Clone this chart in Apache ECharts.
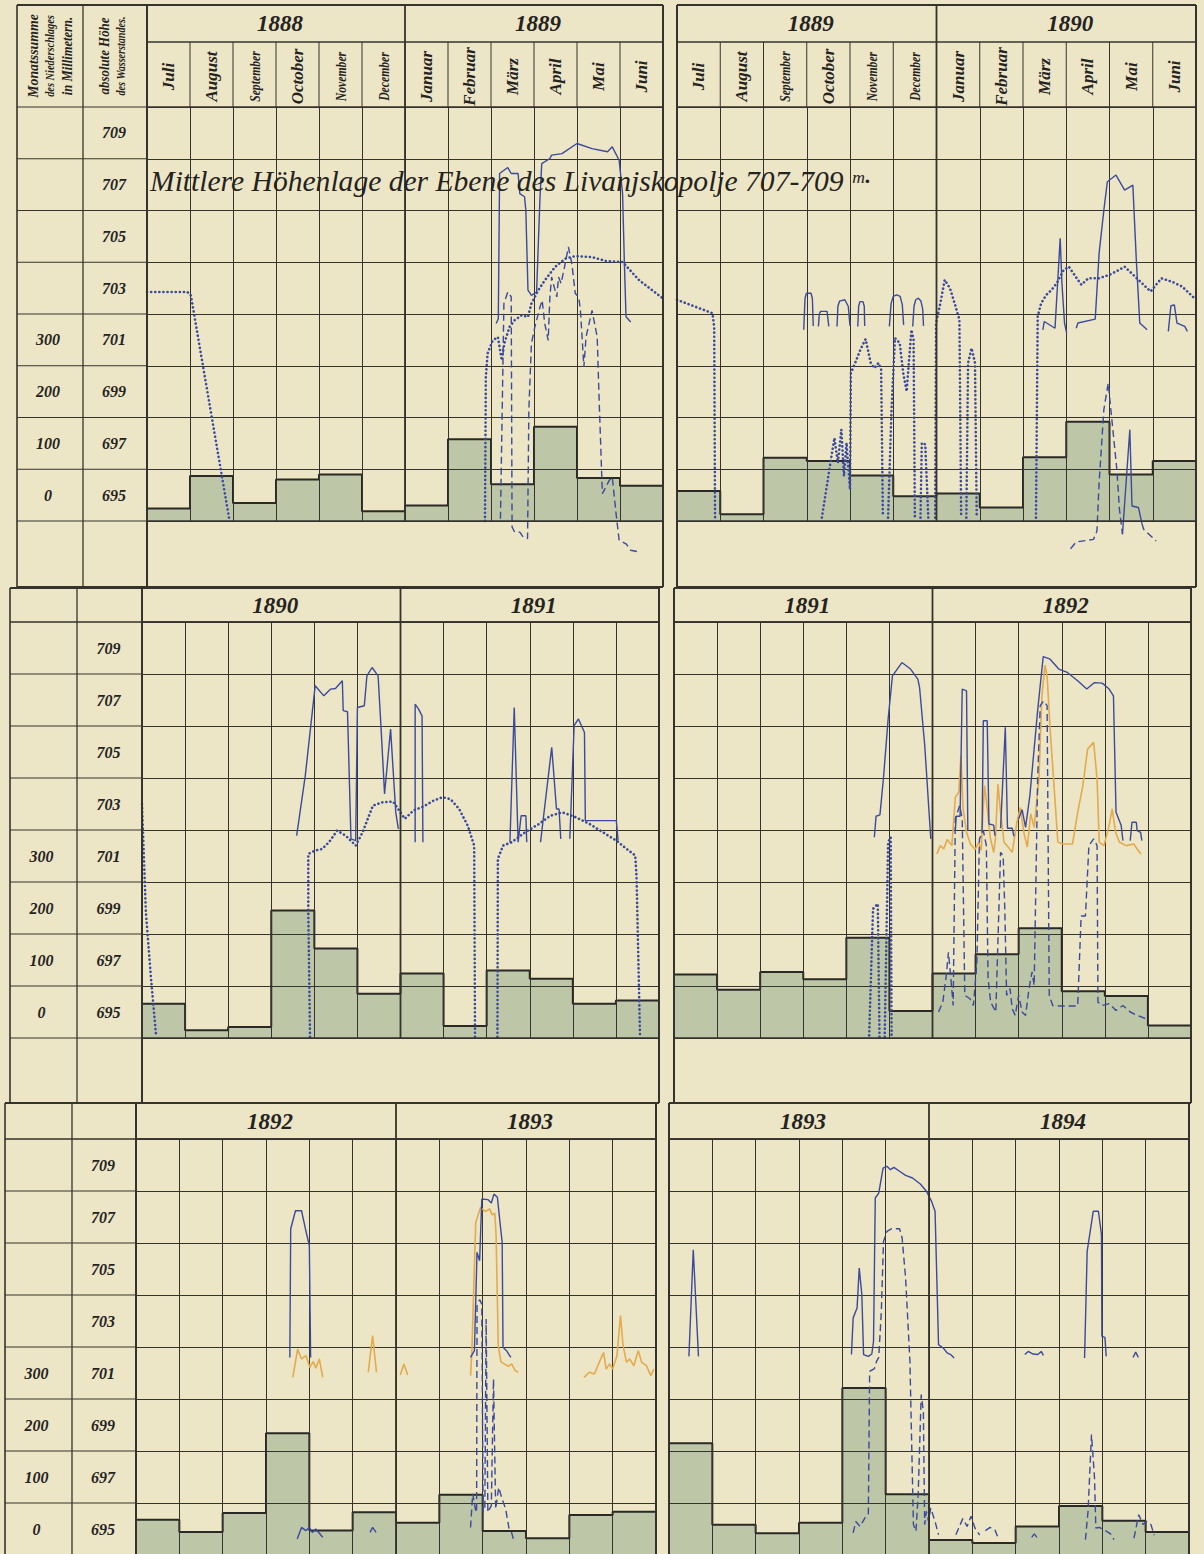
<!DOCTYPE html>
<html>
<head>
<meta charset="utf-8">
<script src="https://cdn.jsdelivr.net/npm/echarts@6/dist/echarts.min.js"></script>
<style>
  html, body { margin: 0; padding: 0; background: #ece6c6; }
  #chart { width: 1204px; height: 1554px; }
</style>
</head>
<body>
<div id="chart"></div>
<script>
// ---- labels ----
const months = ['Juli', 'August', 'September', 'October', 'November', 'December',
  'Januar', 'Februar', 'März', 'April', 'Mai', 'Juni']
const heightTicks = [709, 707, 705, 703, 701, 699, 697, 695]
const rainTicks = [300, 200, 100, 0]

// ---- Monatssumme des Niederschlages (mm), Juli .. Juni ----
const rain1888 = [24, 87, 35, 80, 90, 19, 30, 158, 71, 182, 83, 68]
const rain1889 = [58, 13, 122, 116, 88, 48, 53, 26, 123, 192, 90, 116]
const rain1890 = [66, 15, 21, 245, 172, 85, 124, 23, 130, 114, 66, 72]
const rain1891 = [122, 93, 127, 113, 193, 52, 124, 161, 211, 90, 81, 24]
const rain1892 = [68, 44, 81, 234, 47, 82, 62, 116, 46, 32, 77, 83]
const rain1893 = [215, 58, 42, 62, 321, 117, 29, 23, 55, 94, 66, 44]

// ---- Wasserstand (m), points are [month since 1 Juli, Höhe] ----
const solid1888 = [
  [[8.12, 702.63], [8.17, 702.82], [8.20, 708.43], [8.39, 708.66], [8.47, 708.43], [8.63, 708.43], [8.67, 707.65], [8.78, 707.53], [8.81, 707.01], [8.86, 703.92], [8.94, 703.72], [9.06, 703.85], [9.14, 707.53], [9.18, 708.81], [9.37, 709.01], [9.41, 709.14], [9.65, 709.2], [10.0, 709.59], [10.35, 709.39], [10.71, 709.27], [10.82, 709.46], [10.98, 708.94], [11.06, 707.65], [11.10, 705.08], [11.14, 702.89], [11.25, 702.69]]
]
const dotted1888 = [
  [[0, 703.85], [0.94, 703.85], [1.02, 703.72], [1.92, 695.0]],
  [[7.86, 695.0], [7.88, 700.57], [7.92, 701.47], [8.04, 701.98], [8.16, 702.11], [8.25, 701.21], [8.31, 701.86], [8.43, 702.5], [8.55, 702.76], [8.71, 702.95], [8.86, 702.89], [8.94, 703.4], [9.10, 703.92], [9.25, 704.3], [9.49, 704.82], [9.73, 705.14], [9.96, 705.24], [10.35, 705.2], [10.67, 705.05], [11.06, 705.01], [11.45, 704.3], [12, 703.6]]
]
const dashed1888 = [
  [[8.22, 695.09], [8.30, 703.4], [8.39, 703.85], [8.47, 703.66], [8.49, 694.77], [8.55, 694.57], [8.67, 694.57], [8.75, 694.38], [8.85, 694.32], [8.88, 699.28], [8.94, 701.86], [9.02, 702.5], [9.14, 703.27], [9.19, 703.53], [9.25, 702.63], [9.33, 701.98], [9.37, 703.66], [9.41, 704.43], [9.53, 703.66], [9.57, 704.43], [9.63, 704.18], [9.71, 704.82], [9.80, 705.59], [9.88, 704.95], [9.96, 703.79], [10.04, 703.66], [10.08, 703.14], [10.16, 700.95], [10.21, 702.11], [10.35, 703.14], [10.47, 702.11], [10.51, 699.92], [10.59, 696.06], [10.67, 696.31], [10.75, 696.57], [10.82, 696.7], [10.90, 695.41], [10.98, 694.25], [11.14, 694.12], [11.25, 693.87], [11.45, 693.8]]
]

const solid1889 = [
  [[2.93, 702.39], [2.96, 703.6], [2.99, 703.8], [3.10, 703.8], [3.13, 703.6], [3.15, 702.54]],
  [[3.27, 702.52], [3.29, 703.0], [3.32, 703.1], [3.47, 703.1], [3.51, 702.52]],
  [[3.70, 702.52], [3.72, 703.3], [3.76, 703.5], [3.88, 703.55], [3.96, 703.3], [4.0, 702.54]],
  [[4.18, 702.52], [4.20, 703.3], [4.23, 703.48], [4.30, 703.48], [4.33, 703.3], [4.34, 702.54]],
  [[4.91, 702.52], [4.95, 703.4], [5.0, 703.68], [5.08, 703.74], [5.16, 703.68], [5.21, 703.35], [5.24, 702.58]],
  [[5.45, 702.52], [5.48, 703.3], [5.52, 703.55], [5.58, 703.61], [5.64, 703.5], [5.68, 703.2], [5.70, 702.54]],
  [[8.46, 702.39], [8.49, 702.71], [8.74, 702.45], [8.80, 704.19], [8.86, 705.93], [8.90, 704.19], [8.96, 702.65], [9.01, 702.26]],
  [[9.23, 702.45], [9.27, 702.65], [9.67, 702.8], [9.76, 705.35], [9.87, 707.02], [9.95, 708.11], [10.15, 708.37], [10.35, 707.79], [10.54, 707.98], [10.62, 705.09], [10.70, 702.65], [10.87, 702.39]],
  [[11.36, 702.33], [11.42, 703.32], [11.50, 703.35], [11.56, 702.65], [11.74, 702.52], [11.80, 702.33]],
  [[10.30, 694.49], [10.47, 698.53], [10.52, 695.58], [10.67, 695.52], [10.75, 694.9]]
]
const dotted1889 = [
  [[0, 703.55], [0.82, 703.03], [0.86, 702.5], [0.88, 695.05]],
  [[3.35, 695.13], [3.56, 697.38], [3.64, 698.21], [3.72, 697.25], [3.80, 698.53], [3.86, 696.74], [3.92, 698.02], [4.0, 696.22], [4.02, 700.72], [4.12, 701.11], [4.24, 701.62], [4.36, 702.03], [4.48, 701.11], [4.56, 700.91], [4.66, 701.11], [4.72, 700.85], [4.76, 695.19]],
  [[4.88, 695.13], [4.96, 699.31], [5.04, 702.07], [5.15, 701.88], [5.23, 700.72], [5.31, 700.01], [5.36, 701.11], [5.42, 702.39], [5.47, 702.0], [5.50, 695.13]],
  [[5.63, 695.13], [5.66, 698.02], [5.74, 697.96], [5.81, 695.13]],
  [[5.97, 695.13], [5.99, 702.65], [6.09, 703.42], [6.19, 704.32], [6.31, 704.0], [6.43, 703.35], [6.53, 702.78], [6.57, 695.19]],
  [[6.69, 695.13], [6.73, 701.11], [6.81, 701.68], [6.89, 701.11], [6.93, 695.13]],
  [[8.30, 695.13], [8.34, 702.9], [8.42, 703.42], [8.54, 703.74], [8.66, 703.93], [8.78, 704.19], [8.94, 704.7], [9.06, 704.83], [9.19, 704.51], [9.35, 704.13], [9.51, 704.38], [9.75, 704.38], [9.99, 704.51], [10.15, 704.64], [10.35, 704.83], [10.55, 704.51], [10.75, 704.19], [10.95, 703.87], [11.2, 704.38], [11.44, 704.25], [11.68, 704.06], [12, 703.55]]
]
const dashed1889 = [
  [[9.10, 693.93], [9.23, 694.19], [9.63, 694.29], [9.71, 694.61], [9.76, 696.48], [9.87, 699.31], [9.97, 700.33], [10.07, 698.66], [10.17, 696.99], [10.23, 695.45], [10.30, 694.49]],
  [[10.75, 694.9], [10.79, 694.68], [11.08, 694.23]]
]

const solid1890 = [
  [[3.59, 702.78], [3.79, 705.09], [4.02, 708.55], [4.22, 708.16], [4.38, 708.42], [4.49, 708.44], [4.65, 708.74], [4.67, 707.59], [4.77, 707.55], [4.85, 702.66], [4.96, 702.59], [5.0, 707.71], [5.16, 707.78], [5.22, 708.93], [5.34, 709.25], [5.48, 708.93], [5.55, 706.88], [5.63, 704.39], [5.77, 706.88], [5.89, 703.68], [5.95, 703.04]],
  [[6.34, 702.53], [6.34, 707.84], [6.42, 707.65], [6.50, 707.39], [6.52, 702.53]],
  [[8.54, 702.53], [8.64, 707.71], [8.73, 702.53], [8.80, 703.55], [8.91, 703.55], [8.93, 702.53]],
  [[9.25, 702.53], [9.51, 706.18], [9.62, 703.81], [9.68, 703.81], [9.72, 702.66]],
  [[9.93, 702.66], [10.03, 707.01], [10.13, 707.27], [10.27, 706.75], [10.29, 703.36], [11.01, 703.36], [11.05, 702.59]]
]
const dotted1890 = [
  [[0, 704.0], [0.02, 703.04], [0.09, 699.84], [0.21, 697.28], [0.33, 695.04]],
  [[3.90, 695.04], [3.86, 699.84], [3.86, 702.08], [4.02, 702.21], [4.18, 702.27], [4.34, 702.53], [4.53, 702.98], [4.73, 702.78], [4.96, 702.4], [5.12, 702.91], [5.36, 703.94], [5.59, 704.07], [5.83, 704.09], [5.97, 703.75], [6.10, 703.43], [6.30, 703.75], [6.54, 703.91], [6.77, 704.13], [6.97, 704.26], [7.16, 704.19], [7.36, 703.81], [7.56, 703.17], [7.71, 702.4], [7.73, 695.04]],
  [[8.25, 695.04], [8.26, 701.89], [8.38, 702.4], [8.58, 702.53], [8.89, 702.91], [9.21, 703.23], [9.48, 703.55], [9.76, 703.68], [10.07, 703.49], [10.39, 703.23], [10.70, 702.91], [11.01, 702.59], [11.25, 702.27], [11.45, 702.02], [11.48, 701.12], [11.56, 695.04]]
]

const solid1891 = [
  [[4.65, 702.72], [4.69, 703.53], [4.78, 703.58], [4.86, 704.96], [4.97, 707.27], [5.07, 708.93], [5.29, 709.44], [5.49, 709.19], [5.66, 708.8], [5.70, 708.48], [5.82, 706.24], [5.96, 702.66]],
  [[6.53, 702.98], [6.55, 703.53], [6.64, 703.53], [6.69, 708.42], [6.79, 708.35], [6.82, 702.98]],
  [[7.15, 702.89], [7.18, 707.2], [7.27, 707.2], [7.31, 703.23], [7.42, 703.19], [7.45, 702.78]],
  [[7.58, 703.07], [7.69, 706.95], [7.74, 703.07], [7.85, 703.07], [7.89, 702.76]],
  [[8.0, 703.43], [8.08, 703.78], [8.16, 703.1], [8.26, 704.32], [8.44, 707.59], [8.57, 709.67], [8.73, 709.57], [8.93, 709.19], [9.13, 709.06], [9.37, 708.74], [9.58, 708.42], [9.76, 708.67], [9.94, 708.65], [10.10, 708.42], [10.20, 708.16], [10.26, 703.68], [10.38, 703.17], [10.42, 702.59]],
  [[10.59, 702.59], [10.63, 703.3], [10.73, 703.3], [10.75, 702.98], [10.83, 702.91], [10.86, 702.59]]
]
const dotted1891 = [
  [[4.53, 695.1], [4.62, 699.97], [4.73, 700.16], [4.77, 695.04]],
  [[4.89, 695.04], [4.97, 702.53], [5.03, 702.72], [5.05, 695.04]]
]
const dashed1891 = [
  [[6.14, 696.0], [6.24, 696.38], [6.32, 697.41], [6.37, 698.3], [6.42, 697.41], [6.48, 696.25], [6.53, 703.43], [6.63, 703.94], [6.69, 703.43], [6.75, 696.64], [6.87, 696.51], [6.95, 696.25], [7.03, 697.92], [7.09, 702.66], [7.18, 702.98], [7.25, 702.4], [7.29, 697.28], [7.35, 696.38], [7.47, 696.0], [7.58, 702.14], [7.64, 702.02], [7.68, 699.84], [7.72, 696.64], [7.8, 696.9], [7.85, 696.13], [7.92, 695.87], [8.0, 696.64], [8.08, 696.0], [8.16, 695.87], [8.24, 696.9], [8.31, 697.54], [8.36, 697.02], [8.44, 704.96], [8.5, 707.78], [8.58, 707.97], [8.66, 707.78], [8.71, 696.64], [8.79, 696.25], [8.97, 696.23], [9.37, 696.23], [9.45, 699.69], [9.55, 699.69], [9.63, 702.4], [9.74, 702.66], [9.82, 702.4], [9.84, 696.38], [9.94, 696.25], [10.1, 696.32], [10.26, 696.06], [10.42, 696.25], [10.59, 696.0], [10.75, 695.87], [10.95, 695.74]]
]
const orange1891 = [
  [[6.10, 702.08], [6.18, 702.4], [6.26, 702.27], [6.34, 702.63], [6.45, 702.4], [6.53, 704.26], [6.61, 704.45], [6.66, 705.86], [6.71, 703.81], [6.79, 702.91], [6.88, 702.46], [6.99, 702.25], [7.07, 702.53], [7.13, 702.21], [7.18, 703.94], [7.21, 704.71], [7.27, 703.81], [7.34, 702.72], [7.42, 702.14], [7.46, 702.66], [7.52, 704.77], [7.58, 703.68], [7.66, 702.53], [7.76, 702.34], [7.85, 702.14], [7.96, 703.3], [8.04, 703.87], [8.12, 702.91], [8.2, 702.34], [8.28, 703.62], [8.36, 703.1], [8.47, 704.96], [8.54, 708.16], [8.61, 709.34], [8.66, 708.93], [8.73, 706.88], [8.81, 704.96], [8.91, 702.53], [9.05, 702.46], [9.25, 702.46], [9.37, 703.68], [9.49, 704.71], [9.6, 706.11], [9.74, 706.37], [9.82, 704.96], [9.87, 702.53], [9.98, 702.4], [10.1, 703.17], [10.17, 703.81], [10.25, 702.91], [10.34, 702.53], [10.5, 702.4], [10.67, 702.46], [10.75, 702.27], [10.84, 702.08]]
]

const solid1892 = [
  [[3.55, 702.6], [3.57, 707.54], [3.68, 708.24], [3.82, 708.24], [3.92, 707.47], [4.0, 706.9], [4.03, 702.6]],
  [[7.72, 702.6], [7.81, 702.86], [7.87, 706.64], [7.93, 706.32], [7.98, 708.69], [8.12, 708.67], [8.2, 708.54], [8.26, 708.88], [8.34, 708.76], [8.40, 707.79], [8.45, 707.03], [8.47, 702.99], [8.55, 702.86], [8.65, 702.6]],
  [[3.72, 695.62], [3.82, 696.06], [3.92, 695.94], [4.0, 696.06], [4.07, 695.87], [4.15, 696.0], [4.31, 695.68]],
  [[5.4, 695.87], [5.46, 696.06], [5.54, 695.87]]
]
const dashed1892 = [
  [[7.72, 696.06], [7.77, 697.35], [7.83, 696.77], [7.86, 696.64], [7.87, 704.59], [7.93, 704.82], [7.98, 704.65], [8.01, 696.64], [8.05, 696.77], [8.08, 704.08], [8.12, 696.64], [8.2, 696.9], [8.25, 701.77], [8.30, 696.77], [8.37, 697.6], [8.45, 697.15], [8.53, 696.77], [8.61, 696.0], [8.67, 695.85], [8.72, 695.55]]
]
const orange1892 = [
  [[3.62, 701.83], [3.73, 702.92], [3.82, 702.54], [3.92, 702.67], [4.01, 702.22], [4.09, 702.44], [4.15, 702.18], [4.23, 702.54], [4.31, 701.83]],
  [[5.36, 702.03], [5.46, 703.44], [5.55, 702.03]],
  [[6.10, 701.92], [6.18, 702.35], [6.27, 701.92]],
  [[7.72, 701.9], [7.75, 702.8], [7.84, 707.79], [7.95, 708.37], [8.06, 708.21], [8.16, 708.31], [8.22, 708.08], [8.28, 708.15], [8.31, 707.28], [8.36, 703.05], [8.42, 702.44], [8.5, 702.35], [8.59, 702.26], [8.67, 702.35], [8.75, 702.09], [8.82, 702.03]],
  [[10.34, 701.83], [10.46, 702.03], [10.58, 701.96], [10.69, 702.41], [10.79, 702.79], [10.85, 702.15], [10.93, 702.35], [11.0, 702.15], [11.10, 702.67], [11.18, 704.21], [11.24, 703.05], [11.32, 702.41], [11.39, 702.54], [11.49, 702.28], [11.59, 702.86], [11.67, 702.41], [11.78, 702.28], [11.88, 701.9], [11.95, 702.15]]
]

const solid1893 = [
  [[0.46, 702.64], [0.56, 706.74], [0.68, 702.64]],
  [[4.21, 702.71], [4.25, 704.12], [4.34, 704.5], [4.39, 706.04], [4.45, 705.01], [4.49, 702.71], [4.60, 702.64], [4.68, 702.73], [4.72, 703.22], [4.76, 708.73], [4.84, 708.92], [4.94, 709.88], [5.03, 709.95], [5.11, 709.82], [5.19, 709.91], [5.32, 709.76], [5.46, 709.6], [5.62, 709.5], [5.80, 709.27], [5.94, 708.99], [6.06, 708.6], [6.14, 708.22], [6.22, 703.09], [6.34, 702.94], [6.42, 702.77], [6.50, 702.71], [6.58, 702.58]],
  [[8.21, 702.71], [8.29, 702.83], [8.40, 702.73], [8.51, 702.71], [8.59, 702.83], [8.64, 702.68]],
  [[9.59, 702.58], [9.65, 706.68], [9.79, 708.22], [9.91, 708.22], [9.98, 707.32], [9.99, 703.41], [10.06, 703.37], [10.09, 702.64]],
  [[10.71, 702.6], [10.77, 702.81], [10.83, 702.6]],
  [[8.37, 695.68], [8.43, 695.81], [8.49, 695.68]]
]
const dashed1893 = [
  [[4.25, 695.85], [4.31, 696.29], [4.41, 696.1], [4.53, 696.45], [4.60, 696.55], [4.63, 702.06], [4.74, 702.17], [4.79, 702.45], [4.84, 702.6], [4.90, 704.37], [4.95, 707.06], [5.03, 707.45], [5.14, 707.55], [5.32, 707.55], [5.38, 707.19], [5.46, 705.65], [5.56, 702.45], [5.64, 696.17], [5.70, 695.91], [5.75, 697.32], [5.82, 701.17], [5.87, 700.53], [5.90, 696.17], [5.94, 696.68], [5.99, 696.29], [6.04, 696.81], [6.14, 696.29], [6.22, 695.78]],
  [[6.62, 695.78], [6.78, 696.4], [6.88, 696.1], [6.97, 696.49], [7.06, 696.04], [7.17, 695.76]],
  [[7.30, 695.94], [7.41, 696.06], [7.52, 695.97], [7.58, 695.72]],
  [[9.61, 695.59], [9.67, 696.68], [9.75, 699.63], [9.82, 697.96], [9.85, 696.04], [9.93, 696.06], [10.07, 695.94], [10.19, 695.81], [10.27, 695.59]],
  [[10.73, 695.65], [10.84, 696.55], [10.94, 696.17], [11.02, 696.29], [11.12, 696.17], [11.20, 695.76]]
]

// ---- sheet layout (the scan is slightly skewed, so each band has its own x) ----
const ROWS = [
  { top: 5, yearBottom: 42, gridTop: 107, gridBottom: 521, bottom: 587, colLeft: 17, colMid: 83, L: [147, 663], R: [677, 1196] },
  { top: 588, yearBottom: 622, gridTop: 622, gridBottom: 1038, bottom: 1103, colLeft: 10, colMid: 77, L: [142, 659], R: [674, 1191] },
  { top: 1103, yearBottom: 1139, gridTop: 1139, gridBottom: 1555, bottom: 1620, colLeft: 5, colMid: 72, L: [136, 656], R: [669, 1189] }
]
const PANELS = [
  { row: 0, side: 'L', years: ['1888', '1889'], rain: rain1888, solid: solid1888, dotted: dotted1888, dashed: dashed1888, orange: [] },
  { row: 0, side: 'R', years: ['1889', '1890'], rain: rain1889, solid: solid1889, dotted: dotted1889, dashed: dashed1889, orange: [] },
  { row: 1, side: 'L', years: ['1890', '1891'], rain: rain1890, solid: solid1890, dotted: dotted1890, dashed: [], orange: [] },
  { row: 1, side: 'R', years: ['1891', '1892'], rain: rain1891, solid: solid1891, dotted: dotted1891, dashed: dashed1891, orange: orange1891 },
  { row: 2, side: 'L', years: ['1892', '1893'], rain: rain1892, solid: solid1892, dotted: [], dashed: dashed1892, orange: orange1892 },
  { row: 2, side: 'R', years: ['1893', '1894'], rain: rain1893, solid: solid1893, dotted: [], dashed: dashed1893, orange: [] }
]

const INK = '#35332d'
const BAR = '#bdc7a7'
const BLUE = '#3b4a9c'
const ORANGE = '#e3aa4e'
const FONT = '"Liberation Serif", "DejaVu Serif", serif'

const grid = []
const xAxis = []
const yAxis = []
const series = []
const elements = []

function hline(x1, x2, y, w) {
  elements.push({ type: 'line', z: 10, silent: true, shape: { x1: x1, y1: y, x2: x2, y2: y }, style: { stroke: INK, lineWidth: w || 1 } })
}
function vline(x, y1, y2, w) {
  elements.push({ type: 'line', z: 10, silent: true, shape: { x1: x, y1: y1, x2: x, y2: y2 }, style: { stroke: INK, lineWidth: w || 1 } })
}
function label(x, y, text, font, rotation, align, squeeze) {
  const a = align || 'center'
  elements.push({
    type: 'text', z: 11, silent: true, x: x, y: y, rotation: rotation || 0, scaleX: squeeze || 1,
    style: { text: text, font: font, fill: '#25231f', align: a, verticalAlign: 'middle', textAlign: a, textVerticalAlign: 'middle' }
  })
}

function lineSeries(segs, i, color, type, width, cap) {
  segs.forEach(seg => {
    series.push({
      type: 'line', xAxisIndex: i, yAxisIndex: 2 * i, data: seg,
      symbol: 'none', clip: false, silent: true, z: 5,
      lineStyle: { color: color, width: width, type: type, cap: cap || 'butt' }
    })
  })
}

// frame of each band and the two label columns
ROWS.forEach((r, ri) => {
  const rowH = (r.gridBottom - r.gridTop) / 8
  const yEnd = Math.min(r.bottom, 1560)
  vline(r.colLeft, r.top, yEnd, 1.6)
  vline(r.colMid, r.top, yEnd, 1.3)
  hline(r.colLeft, r.L[0], r.top, 2)
  if (ri > 0) hline(r.colLeft, r.L[0], r.yearBottom, 1.2)
  for (let k = 0; k <= 8; k++) hline(r.colLeft, r.L[0], r.gridTop + k * rowH, 1.2)
  hline(r.colLeft, r.L[0], r.bottom, 2)
  const cx2 = (r.colMid + r.L[0]) / 2
  const cx1 = (r.colLeft + r.colMid) / 2
  heightTicks.forEach((t, k) => label(cx2 - 1, r.gridTop + (k + 0.5) * rowH, String(t), 'italic bold 16px ' + FONT))
  rainTicks.forEach((t, k) => label(cx1 - 2, r.gridTop + (k + 4.5) * rowH, String(t), 'italic bold 16px ' + FONT))
})

// column headings
label(33, 56, 'Monatssumme', 'italic bold 15px ' + FONT, Math.PI / 2, 'center', 0.92)
label(50, 56, 'des Niederschlages', 'italic bold 13px ' + FONT, Math.PI / 2, 'center', 0.8)
label(67, 56, 'in Millimetern.', 'italic bold 14px ' + FONT, Math.PI / 2, 'center', 0.9)
label(104, 56, 'absolute Höhe', 'italic bold 14px ' + FONT, Math.PI / 2, 'center', 0.92)
label(121, 56, 'des Wasserstandes.', 'italic bold 13px ' + FONT, Math.PI / 2, 'center', 0.78)

PANELS.forEach((p, i) => {
  const r = ROWS[p.row]
  const x0 = r[p.side][0]
  const x1 = r[p.side][1]
  const mw = (x1 - x0) / 12
  const xm = x0 + 6 * mw
  const yEnd = Math.min(r.bottom, 1560)

  grid.push({ left: x0, top: r.gridTop, width: x1 - x0, height: r.gridBottom - r.gridTop, show: false, containLabel: false, outerBoundsMode: 'none' })
  xAxis.push({
    type: 'value', gridIndex: i, min: 0, max: 12, interval: 1, z: 3,
    axisLine: { show: false }, axisTick: { show: false }, axisLabel: { show: false },
    splitLine: { show: true, lineStyle: { color: INK, width: 1 } }
  })
  // water level in metres (hidden) and rainfall in mm, 100 mm = 2 m
  yAxis.push({ type: 'value', gridIndex: i, min: 695, max: 711, show: false })
  yAxis.push({
    type: 'value', gridIndex: i, min: 0, max: 800, interval: 100, z: 3,
    axisLine: { show: false }, axisTick: { show: false }, axisLabel: { show: false },
    splitLine: { show: true, lineStyle: { color: INK, width: 1 } }
  })

  const rainData = p.rain.map((v, m) => [m, v])
  rainData.push([12, p.rain[11]])
  series.push({
    type: 'line', xAxisIndex: i, yAxisIndex: 2 * i + 1, step: 'end', data: rainData,
    symbol: 'none', silent: true, z: 2,
    lineStyle: { color: '#2a2925', width: 2 },
    areaStyle: { color: BAR, opacity: 1 }
  })
  lineSeries(p.orange, i, ORANGE, 'solid', 1.6)
  lineSeries(p.dotted, i, BLUE, [0.1, 4], 2.6, 'round')
  lineSeries(p.dashed, i, BLUE, [7, 4], 1.4)
  lineSeries(p.solid, i, BLUE, 'solid', 1.4)

  // panel frame, headers, year divider
  vline(x0, r.top, yEnd, 2)
  vline(x1, r.top, yEnd, 2)
  hline(x0, x1, r.top, 2)
  hline(x0, x1, r.yearBottom, 1.6)
  hline(x0, x1, r.gridTop, 1.6)
  hline(x0, x1, r.gridBottom, 1.6)
  hline(x0, x1, r.bottom, 2)
  vline(xm, r.top, r.gridBottom, 1.8)
  label((x0 + xm) / 2 + 4, (r.top + r.yearBottom) / 2, p.years[0], 'italic bold 23px ' + FONT)
  label((xm + x1) / 2 + 4, (r.top + r.yearBottom) / 2, p.years[1], 'italic bold 23px ' + FONT)
  if (p.row === 0) {
    for (let m = 1; m < 12; m++) vline(x0 + m * mw, r.yearBottom, r.gridTop, 1)
    months.forEach((name, m) => {
      const long = name.length > 7
      label(x0 + (m + 0.5) * mw, (r.yearBottom + r.gridTop) / 2 + 2, name, 'italic bold ' + (long ? 15 : 17) + 'px ' + FONT,
        Math.PI / 2, 'center', long ? 0.78 : 1)
    })
  }
})

label(150, 181, 'Mittlere Höhenlage der Ebene des Livanjskopolje 707-709 ᵐ·', 'italic 29px ' + FONT, 0, 'left', 1.02)

const chart = echarts.init(document.getElementById('chart'), null, { renderer: 'svg' })
chart.setOption({
  animation: false,
  backgroundColor: '#ece6c6',
  grid: grid,
  xAxis: xAxis,
  yAxis: yAxis,
  series: series,
  graphic: { elements: elements }
})
</script>
</body>
</html>
